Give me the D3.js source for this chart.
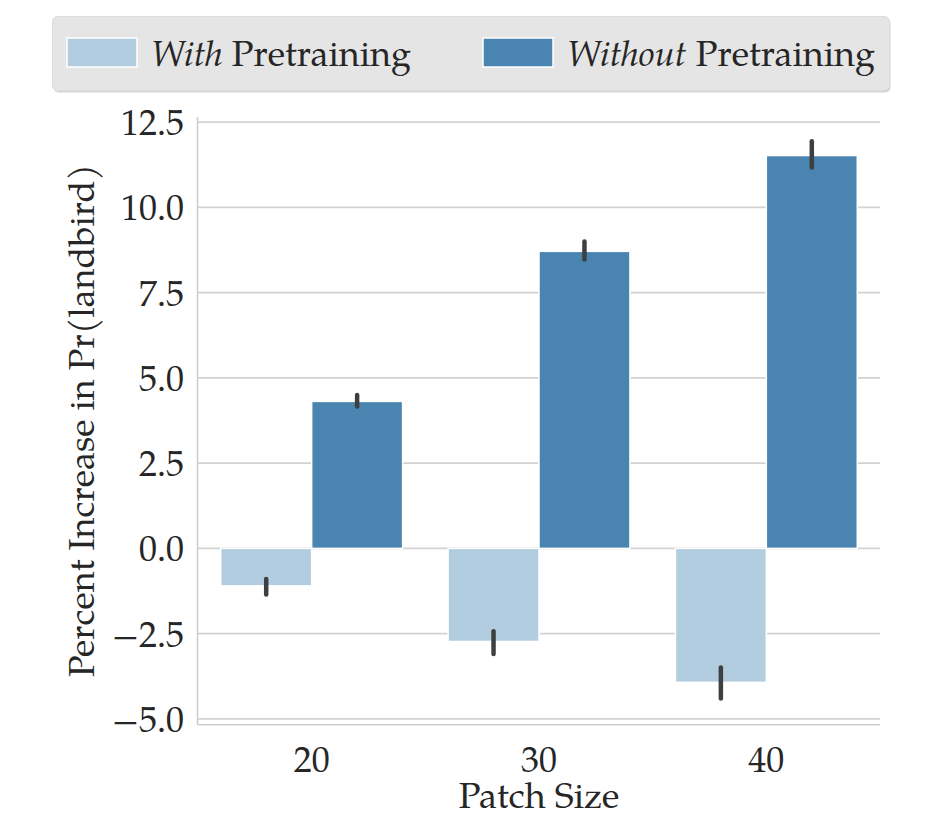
<!DOCTYPE html>
<html>
<head>
<meta charset="utf-8">
<script src="https://cdn.jsdelivr.net/npm/d3@7"></script>
<style>
  html, body { margin: 0; padding: 0; background: #fff; }
  svg text { font-family: "Palatino Linotype", Palatino, "TeX Gyre Pagella", "Liberation Serif", serif; fill: #262626; }
</style>
</head>
<body>
<div id="chart"></div>
<script>
// Patch sizes on the x axis
const patchSizes = [20, 30, 40];
const seriesKeys = ['with', 'without'];
// mean percent increase in Pr(landbird)
const withPretraining = [-1.1, -2.73, -3.93];
const withoutPretraining = [4.31, 8.71, 11.52];
// confidence intervals [low, high]
const withCI = [[-1.35, -0.9], [-3.1, -2.43], [-4.4, -3.49]];
const withoutCI = [[4.16, 4.5], [8.47, 9.0], [11.17, 11.94]];
const yTicks = [-5.0, -2.5, 0.0, 2.5, 5.0, 7.5, 10.0, 12.5];

const colors = { with: '#b3cde0', without: '#4a84b0' };

const rows = patchSizes.map((p, i) => ({
  patch: p,
  bars: [
    { key: 'with', value: withPretraining[i], ci: withCI[i] },
    { key: 'without', value: withoutPretraining[i], ci: withoutCI[i] }
  ]
}));

const W = 934, H = 822;
const plot = { left: 198, right: 880, top: 117, bottom: 724 };

const svg = d3.select('#chart').append('svg')
  .attr('width', W)
  .attr('height', H);

const x = d3.scaleBand()
  .domain(patchSizes)
  .range([plot.left, plot.right])
  .padding(0);

const xInner = d3.scaleBand()
  .domain(seriesKeys)
  .range([x.bandwidth() * 0.1, x.bandwidth() * 0.9])
  .padding(0);

const y = d3.scaleLinear()
  .domain([-5.15, 12.65])
  .range([plot.bottom, plot.top]);

// Grid lines
svg.append('g')
  .selectAll('line')
  .data(yTicks)
  .enter().append('line')
  .attr('x1', plot.left)
  .attr('x2', plot.right)
  .attr('y1', d => y(d))
  .attr('y2', d => y(d))
  .attr('stroke', '#d2d2d2')
  .attr('stroke-width', 1.6);

// Spines (left + bottom)
svg.append('line')
  .attr('x1', plot.left - 0.5).attr('x2', plot.left - 0.5)
  .attr('y1', plot.top).attr('y2', plot.bottom + 0.8)
  .attr('stroke', '#cfcfcf').attr('stroke-width', 1.6);
svg.append('line')
  .attr('x1', plot.left - 0.5).attr('x2', plot.right)
  .attr('y1', plot.bottom + 0.8).attr('y2', plot.bottom + 0.8)
  .attr('stroke', '#cfcfcf').attr('stroke-width', 1.6);

// Bars
const groups = svg.append('g')
  .selectAll('g')
  .data(rows)
  .enter().append('g')
  .attr('transform', d => `translate(${x(d.patch)},0)`);

groups.selectAll('rect')
  .data(d => d.bars)
  .enter().append('rect')
  .attr('x', d => xInner(d.key))
  .attr('width', xInner.bandwidth())
  .attr('y', d => y(Math.max(0, d.value)))
  .attr('height', d => Math.abs(y(d.value) - y(0)))
  .attr('fill', d => colors[d.key])
  .attr('stroke', '#ffffff')
  .attr('stroke-width', 1.5);

// Error bars
groups.selectAll('line.err')
  .data(d => d.bars)
  .enter().append('line')
  .attr('class', 'err')
  .attr('x1', d => xInner(d.key) + xInner.bandwidth() / 2)
  .attr('x2', d => xInner(d.key) + xInner.bandwidth() / 2)
  .attr('y1', d => y(d.ci[0]))
  .attr('y2', d => y(d.ci[1]))
  .attr('stroke', '#3f3f3f')
  .attr('stroke-width', 4.5)
  .attr('stroke-linecap', 'round');

// Y tick labels
svg.append('g')
  .selectAll('text')
  .data(yTicks)
  .enter().append('text')
  .attr('x', 184)
  .attr('y', d => y(d))
  .attr('dy', '0.36em')
  .attr('text-anchor', 'end')
  .style('font-size', '36px')
  .text(d => d3.format('.1f')(d).replace('-', '\u2212'));

// X tick labels
svg.append('g')
  .selectAll('text')
  .data(patchSizes)
  .enter().append('text')
  .attr('x', d => x(d) + x.bandwidth() / 2)
  .attr('y', 772)
  .attr('text-anchor', 'middle')
  .style('font-size', '36px')
  .text(d => d);

// Axis labels
svg.append('text')
  .attr('x', (plot.left + plot.right) / 2)
  .attr('y', 808)
  .attr('text-anchor', 'middle')
  .style('font-size', '36px')
  .text('Patch Size');

svg.append('text')
  .attr('transform', `translate(94,${(plot.top + plot.bottom) / 2}) rotate(-90)`)
  .attr('text-anchor', 'middle')
  .style('font-size', '36px')
  .text('Percent Increase in Pr(landbird)');

// Legend
const legend = svg.append('g');
legend.append('rect')
  .attr('x', 53.5).attr('y', 18.5)
  .attr('width', 837).attr('height', 74)
  .attr('rx', 5)
  .attr('fill', '#d6d6d6');
legend.append('rect')
  .attr('x', 52.5).attr('y', 16.5)
  .attr('width', 837).attr('height', 74)
  .attr('rx', 5)
  .attr('fill', '#e5e5e5')
  .attr('stroke', '#dcdcdc')
  .attr('stroke-width', 1);

const legendItems = [
  { key: 'with', em: 'With', rest: ' Pretraining', x: 67 },
  { key: 'without', em: 'Without', rest: ' Pretraining', x: 483 }
];

legendItems.forEach(it => {
  legend.append('rect')
    .attr('x', it.x).attr('y', 38)
    .attr('width', 70).attr('height', 29)
    .attr('fill', colors[it.key])
    .attr('stroke', '#ffffff')
    .attr('stroke-width', 1.5);
  const t = legend.append('text')
    .attr('x', it.x + 84)
    .attr('y', 66)
    .style('font-size', '36px');
  t.append('tspan').style('font-style', 'italic').text(it.em);
  t.append('tspan').text(it.rest);
});
</script>
</body>
</html>
